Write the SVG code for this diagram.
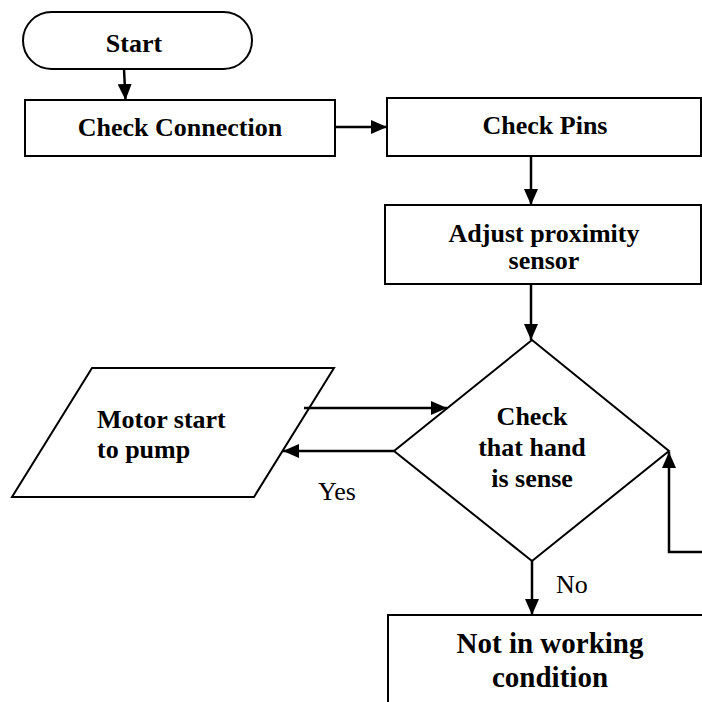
<svg xmlns="http://www.w3.org/2000/svg" width="702" height="702" viewBox="0 0 702 702">
  <style>
    .shape { fill: #ffffff; stroke: #000000; stroke-width: 2; }
    .conn { fill: none; stroke: #000000; stroke-width: 2.5; }
    text { font-family: "Liberation Serif", serif !important; fill: #000000; }
    .b { font-weight: bold; }
  </style>
  <defs>
    <marker id="arrow" markerUnits="userSpaceOnUse" markerWidth="16" markerHeight="14" refX="16" refY="7" orient="auto">
      <path d="M0,0 L16,7 L0,14 z" fill="#000000"/>
    </marker>
  </defs>
  <rect width="702" height="702" fill="#ffffff"/>

  <g id="start">
    <rect class="shape" x="23" y="12" width="229" height="57" rx="28.5" ry="28.5"/>
    <text class="b" x="134" y="52" text-anchor="middle" font-size="26" style="font-family: 'Liberation Serif', serif">Start</text>
  </g>
  <g id="check-connection">
    <rect class="shape" x="25" y="100" width="310" height="56"/>
    <text class="b" x="180" y="136" text-anchor="middle" font-size="26" style="font-family: 'Liberation Serif', serif">Check Connection</text>
  </g>
  <g id="check-pins">
    <rect class="shape" x="387" y="98" width="314" height="58"/>
    <text class="b" x="545" y="134" text-anchor="middle" font-size="26" style="font-family: 'Liberation Serif', serif">Check Pins</text>
  </g>
  <g id="adjust-sensor">
    <rect class="shape" x="385" y="205" width="316" height="79"/>
    <text class="b" x="544" y="242" text-anchor="middle" font-size="26" style="font-family: 'Liberation Serif', serif">Adjust proximity</text>
    <text class="b" x="544" y="269" text-anchor="middle" font-size="26" style="font-family: 'Liberation Serif', serif">sensor</text>
  </g>
  <g id="check-hand">
    <polygon class="shape" points="532,340 669,451 532,561 394,451"/>
    <text class="b" x="532" y="425" text-anchor="middle" font-size="26" style="font-family: 'Liberation Serif', serif">Check</text>
    <text class="b" x="532" y="456" text-anchor="middle" font-size="26" style="font-family: 'Liberation Serif', serif">that hand</text>
    <text class="b" x="532" y="487" text-anchor="middle" font-size="26" style="font-family: 'Liberation Serif', serif">is sense</text>
  </g>
  <g id="motor-start">
    <polygon class="shape" points="92,368 334,368 254,497 12,497"/>
    <text class="b" x="97" y="428" font-size="26" style="font-family: 'Liberation Serif', serif">Motor start</text>
    <text class="b" x="97" y="458" font-size="26" style="font-family: 'Liberation Serif', serif">to pump</text>
  </g>
  <g id="not-working">
    <rect class="shape" x="388" y="615" width="330" height="100"/>
    <text class="b" x="550" y="653" text-anchor="middle" font-size="29" style="font-family: 'Liberation Serif', serif">Not in working</text>
    <text class="b" x="550" y="687" text-anchor="middle" font-size="29" style="font-family: 'Liberation Serif', serif">condition</text>
  </g>

  <g id="connectors">
    <line class="conn" x1="124" y1="69" x2="125.5" y2="100" marker-end="url(#arrow)"/>
    <line class="conn" x1="335" y1="127" x2="387" y2="127" marker-end="url(#arrow)"/>
    <line class="conn" x1="531" y1="156" x2="531" y2="205" marker-end="url(#arrow)"/>
    <line class="conn" x1="531" y1="284" x2="531" y2="340" marker-end="url(#arrow)"/>
    <line class="conn" x1="304" y1="408" x2="447" y2="408" marker-end="url(#arrow)"/>
    <line class="conn" x1="394" y1="451" x2="283" y2="451" marker-end="url(#arrow)"/>
    <line class="conn" x1="532" y1="561" x2="532" y2="615" marker-end="url(#arrow)"/>
    <polyline class="conn" points="702,552 669,552 669,452" marker-end="url(#arrow)"/>
    <text x="318" y="500" font-size="26" style="font-family: 'Liberation Serif', serif">Yes</text>
    <text x="556" y="593" font-size="26" style="font-family: 'Liberation Serif', serif">No</text>
  </g>
</svg>
